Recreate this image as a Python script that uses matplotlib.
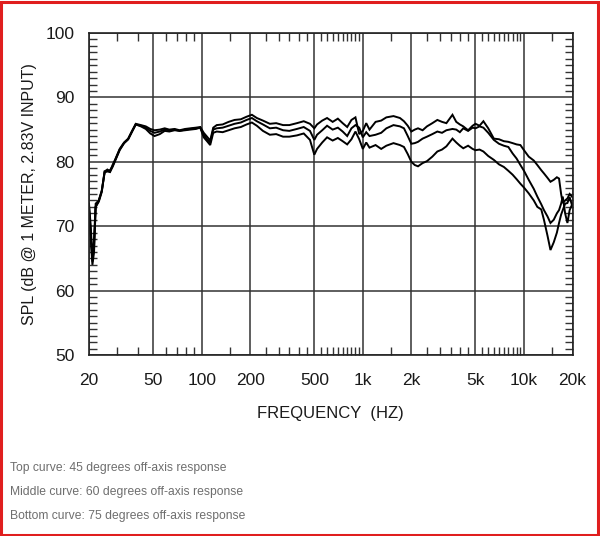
import matplotlib
matplotlib.use("Agg")
import matplotlib.pyplot as plt
from matplotlib.patches import Rectangle
import numpy as np

plt.rcParams['font.family'] = ['Liberation Sans', 'DejaVu Sans']

freq = [20, 20.5, 21, 21.5, 22, 23, 24, 25, 26, 27, 28, 29, 31, 33, 35, 37, 39, 42, 45, 48,
        51, 55, 59, 63, 68, 73, 79, 85, 92, 98, 103, 108, 113, 118, 124, 135, 147, 160, 175, 190,
        205, 220, 240, 265, 290, 320, 350, 390, 430, 470, 500, 520, 560, 600, 650, 700, 750, 800, 850, 900,
        950, 1000, 1050, 1100, 1200, 1300, 1400, 1550, 1700, 1800, 1900, 2000, 2100, 2200, 2350, 2500, 2700, 2900, 3100, 3300,
        3600, 3800, 4000, 4200, 4500, 4800, 5000, 5300, 5600, 6000, 6500, 7000, 7500, 8000, 8500, 9000, 9500, 10000, 10700, 11500,
        12100, 12800, 13300, 14000, 14600, 15300, 16000, 16500, 17000, 17400, 18000, 18600, 19200, 20000]

top_45 = [73.5, 70, 65, 68, 73.5, 74, 75.5, 78.5, 78.8, 78.5, 79.5, 80.3, 82, 83, 83.6, 84.8, 85.9, 85.7, 85.5, 85.1,
          84.9, 85.0, 85.2, 85.0, 85.1, 84.9, 85.1, 85.2, 85.3, 85.4, 84.5, 83.9, 83.3, 85.3, 85.7, 85.8, 86.2, 86.5, 86.6, 87.0,
          87.3, 86.8, 86.4, 85.9, 86.0, 85.7, 85.7, 86.0, 86.3, 85.9, 85.2, 85.8, 86.4, 86.8, 86.2, 86.7, 86.0, 85.4, 86.5, 86.9,
          84.3, 84.8, 86.0, 85.0, 86.2, 86.4, 86.9, 87.1, 86.8, 86.3, 85.6, 84.7, 85.0, 85.2, 84.9, 85.5, 86.0, 86.5, 86.2, 86.0,
          87.3, 86.2, 85.8, 85.5, 84.9, 85.6, 85.9, 85.6, 86.3, 85.2, 83.6, 83.5, 83.2, 83.1, 82.9, 82.7, 82.6, 81.8, 80.8, 80.2,
          79.5, 78.7, 78.2, 77.5, 76.9, 77.2, 77.6, 77.4, 75.0, 73.6, 74.0, 74.3, 75.0, 74.5]

mid_60 = [73, 69, 64.5, 67, 73, 74, 75.5, 78.3, 78.6, 78.7, 79.3, 80.2, 81.9, 82.9, 83.5, 84.7, 85.8, 85.6, 85.3, 84.8,
          84.5, 84.7, 85.0, 84.9, 85.0, 84.8, 85.0, 85.1, 85.2, 85.3, 84.2, 83.5, 83.0, 85.0, 85.2, 85.3, 85.6, 85.9, 86.1, 86.5,
          86.8, 86.3, 85.8, 85.2, 85.3, 84.9, 84.8, 85.1, 85.4, 84.8, 83.4, 84.2, 84.9, 85.6, 85.0, 85.3, 84.7, 84.0, 85.2, 85.7,
          85.3, 83.8, 84.6, 84.0, 84.2, 84.5, 85.2, 85.7, 85.5, 85.2, 84.0, 82.8, 82.9, 83.1, 83.6, 83.9, 84.3, 84.7, 84.5, 84.9,
          85.1, 85.0, 84.6, 85.2, 84.8, 85.3, 85.2, 85.5, 85.3, 84.5, 83.4, 82.8, 82.5, 82.3, 81.3, 80.5, 79.5, 78.6, 77.2, 75.8,
          74.6, 73.4, 72.5, 71.5, 70.5, 71.0, 72.0, 72.5, 73.5, 74.6, 72.0, 70.5, 72.5, 73.5]

bot_75 = [72.5, 68, 64, 66, 73, 73.8, 75.3, 78.5, 78.5, 78.4, 79.2, 80.1, 81.8, 82.9, 83.5, 84.7, 85.8, 85.5, 85.1, 84.4,
          84.0, 84.3, 84.8, 84.7, 84.9, 84.8, 84.9, 85.0, 85.1, 85.3, 83.8, 83.2, 82.6, 84.5, 84.7, 84.6, 84.9, 85.2, 85.4, 85.8,
          86.1, 85.6, 84.8, 84.2, 84.3, 83.9, 83.9, 84.1, 84.4, 83.4, 81.1, 82.0, 83.0, 83.8, 83.3, 83.7, 83.2, 82.7, 83.5, 84.7,
          83.5, 82.0, 83.0, 82.2, 82.6, 82.0, 82.5, 82.9, 82.6, 82.3, 81.2, 80.0, 79.5, 79.3, 79.8, 80.1, 80.8, 81.6, 81.9, 82.4,
          83.6, 83.0, 82.5, 82.1, 82.5, 82.0, 81.8, 81.9, 81.6, 80.9, 80.3, 79.6, 79.2, 78.6, 78.0, 77.3, 76.6, 76.0, 75.1, 74.0,
          73.0, 72.6, 71.0, 68.5, 66.3, 67.5, 69.0, 70.5, 71.8, 72.5, 73.5, 73.6, 74.5, 73.0]

xtick_vals = [20, 50, 100, 200, 500, 1000, 2000, 5000, 10000, 20000]
xtick_labels = ['20', '50', '100', '200', '500', '1k', '2k', '5k', '10k', '20k']
xminor_vals = [30, 40, 60, 70, 80, 90, 150, 250, 300, 350, 400, 450,
               550, 600, 650, 700, 750, 800, 850, 900, 950, 1500,
               2500, 3000, 3500, 4000, 4500, 5500, 6000, 6500, 7000, 7500, 8000, 8500, 9000, 9500, 15000]
ytick_vals = [50, 60, 70, 80, 90, 100]
captions = ["Top curve: 45 degrees off-axis response",
            "Middle curve: 60 degrees off-axis response",
            "Bottom curve: 75 degrees off-axis response"]

fig = plt.figure(figsize=(6.0, 5.36), dpi=100)
fig.patch.set_facecolor('white')
ax = fig.add_axes([89/600, 181/536, 483.5/600, 322/536])
ax.set_xscale('log')
ax.set_xlim(20, 20000)
ax.set_ylim(50, 100)

for ys in (top_45, mid_60, bot_75):
    ax.plot(freq, ys, color='black', lw=1.4, solid_joinstyle='miter')

ax.set_xticks(xtick_vals)
ax.set_xticklabels(xtick_labels)
ax.set_xticks(xminor_vals, minor=True)
ax.set_yticks(ytick_vals)
ax.set_yticks(np.arange(50, 101, 1), minor=True)
ax.tick_params(axis='both', which='major', length=0, labelsize=12.5, colors='#1a1a1a')
ax.tick_params(axis='y', which='major', pad=10.5)
ax.tick_params(axis='x', which='major', pad=13)
ax.tick_params(axis='both', which='minor', direction='in', length=6, width=1.0, color='#333333',
               top=True, right=True, labelbottom=False)
ax.grid(True, which='major', color='#333333', lw=1.1)
for s in ax.spines.values():
    s.set_color('#222222')
    s.set_linewidth(1.2)

ax.set_xlabel('FREQUENCY  (HZ)', fontsize=12, labelpad=13, color='#1a1a1a')
ax.set_ylabel('SPL (dB @ 1 METER, 2.83V INPUT)', fontsize=11.5, labelpad=6, color='#1a1a1a')

for i, t in enumerate(captions):
    fig.text(10/600, 1 - (468 + 24*i)/536, t, fontsize=8.7, color='#6e6e6e', va='center', ha='left')

fig.patches.append(Rectangle((0.002, 0.002), 0.995, 0.995, transform=fig.transFigure,
                             fill=False, edgecolor='#e01e1e', lw=2.2))

fig.savefig('out.png', dpi=100)
